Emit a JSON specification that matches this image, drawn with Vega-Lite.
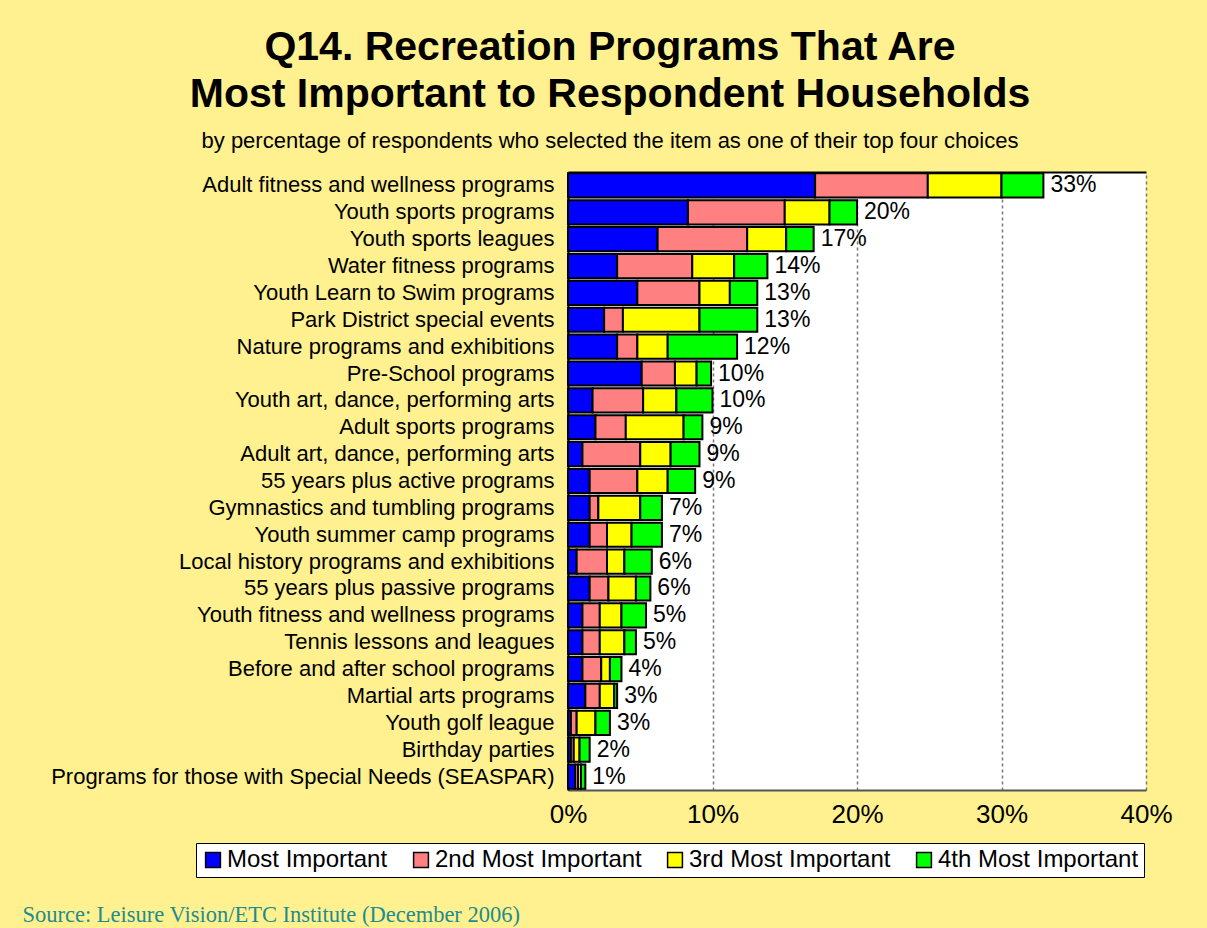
{
  "$schema": "https://vega.github.io/schema/vega-lite/v6.json",
  "width": 578,
  "height": 618,
  "autosize": {"type": "none"},
  "padding": {"left": 568, "top": 172, "right": 61, "bottom": 138},
  "background": "#FFF18F",
  "title": {
    "text": ["Q14. Recreation Programs That Are", "Most Important to Respondent Households"],
    "subtitle": "by percentage of respondents who selected the item as one of their top four choices",
    "anchor": "middle",
    "frame": "group",
    "dx": -247,
    "offset": 19,
    "font": "Liberation Sans",
    "fontSize": 41,
    "fontWeight": "bold",
    "lineHeight": 47,
    "color": "#000000",
    "subtitleFont": "Liberation Sans",
    "subtitleFontSize": 22,
    "subtitleColor": "#000000",
    "subtitlePadding": 15
  },
  "config": {
    "view": {"fill": "#FFFFFF", "stroke": null},
    "axis": {"labelFont": "Liberation Sans", "labelColor": "#000000"}
  },
  "datasets": {
    "segments": [
      {"program": "Adult fitness and wellness programs", "level": "Most Important", "rank": 1, "value": 17.1},
      {"program": "Adult fitness and wellness programs", "level": "2nd Most Important", "rank": 2, "value": 7.8},
      {"program": "Adult fitness and wellness programs", "level": "3rd Most Important", "rank": 3, "value": 5.1},
      {"program": "Adult fitness and wellness programs", "level": "4th Most Important", "rank": 4, "value": 2.9},
      {"program": "Youth sports programs", "level": "Most Important", "rank": 1, "value": 8.3},
      {"program": "Youth sports programs", "level": "2nd Most Important", "rank": 2, "value": 6.7},
      {"program": "Youth sports programs", "level": "3rd Most Important", "rank": 3, "value": 3.1},
      {"program": "Youth sports programs", "level": "4th Most Important", "rank": 4, "value": 1.9},
      {"program": "Youth sports leagues", "level": "Most Important", "rank": 1, "value": 6.2},
      {"program": "Youth sports leagues", "level": "2nd Most Important", "rank": 2, "value": 6.2},
      {"program": "Youth sports leagues", "level": "3rd Most Important", "rank": 3, "value": 2.7},
      {"program": "Youth sports leagues", "level": "4th Most Important", "rank": 4, "value": 1.9},
      {"program": "Water fitness programs", "level": "Most Important", "rank": 1, "value": 3.4},
      {"program": "Water fitness programs", "level": "2nd Most Important", "rank": 2, "value": 5.2},
      {"program": "Water fitness programs", "level": "3rd Most Important", "rank": 3, "value": 2.9},
      {"program": "Water fitness programs", "level": "4th Most Important", "rank": 4, "value": 2.3},
      {"program": "Youth Learn to Swim programs ", "level": "Most Important", "rank": 1, "value": 4.8},
      {"program": "Youth Learn to Swim programs ", "level": "2nd Most Important", "rank": 2, "value": 4.3},
      {"program": "Youth Learn to Swim programs ", "level": "3rd Most Important", "rank": 3, "value": 2.1},
      {"program": "Youth Learn to Swim programs ", "level": "4th Most Important", "rank": 4, "value": 1.9},
      {"program": "Park District special events", "level": "Most Important", "rank": 1, "value": 2.5},
      {"program": "Park District special events", "level": "2nd Most Important", "rank": 2, "value": 1.3},
      {"program": "Park District special events", "level": "3rd Most Important", "rank": 3, "value": 5.3},
      {"program": "Park District special events", "level": "4th Most Important", "rank": 4, "value": 4.0},
      {"program": "Nature programs and exhibitions", "level": "Most Important", "rank": 1, "value": 3.4},
      {"program": "Nature programs and exhibitions", "level": "2nd Most Important", "rank": 2, "value": 1.4},
      {"program": "Nature programs and exhibitions", "level": "3rd Most Important", "rank": 3, "value": 2.1},
      {"program": "Nature programs and exhibitions", "level": "4th Most Important", "rank": 4, "value": 4.8},
      {"program": "Pre-School programs", "level": "Most Important", "rank": 1, "value": 5.1},
      {"program": "Pre-School programs", "level": "2nd Most Important", "rank": 2, "value": 2.3},
      {"program": "Pre-School programs", "level": "3rd Most Important", "rank": 3, "value": 1.5},
      {"program": "Pre-School programs", "level": "4th Most Important", "rank": 4, "value": 1.0},
      {"program": "Youth art, dance, performing arts", "level": "Most Important", "rank": 1, "value": 1.7},
      {"program": "Youth art, dance, performing arts", "level": "2nd Most Important", "rank": 2, "value": 3.5},
      {"program": "Youth art, dance, performing arts", "level": "3rd Most Important", "rank": 3, "value": 2.3},
      {"program": "Youth art, dance, performing arts", "level": "4th Most Important", "rank": 4, "value": 2.5},
      {"program": "Adult sports programs", "level": "Most Important", "rank": 1, "value": 1.9},
      {"program": "Adult sports programs", "level": "2nd Most Important", "rank": 2, "value": 2.1},
      {"program": "Adult sports programs", "level": "3rd Most Important", "rank": 3, "value": 4.0},
      {"program": "Adult sports programs", "level": "4th Most Important", "rank": 4, "value": 1.3},
      {"program": "Adult art, dance, performing arts", "level": "Most Important", "rank": 1, "value": 1.0},
      {"program": "Adult art, dance, performing arts", "level": "2nd Most Important", "rank": 2, "value": 4.0},
      {"program": "Adult art, dance, performing arts", "level": "3rd Most Important", "rank": 3, "value": 2.1},
      {"program": "Adult art, dance, performing arts", "level": "4th Most Important", "rank": 4, "value": 2.0},
      {"program": "55 years plus active programs", "level": "Most Important", "rank": 1, "value": 1.5},
      {"program": "55 years plus active programs", "level": "2nd Most Important", "rank": 2, "value": 3.3},
      {"program": "55 years plus active programs", "level": "3rd Most Important", "rank": 3, "value": 2.1},
      {"program": "55 years plus active programs", "level": "4th Most Important", "rank": 4, "value": 1.9},
      {"program": "Gymnastics and tumbling programs", "level": "Most Important", "rank": 1, "value": 1.5},
      {"program": "Gymnastics and tumbling programs", "level": "2nd Most Important", "rank": 2, "value": 0.6},
      {"program": "Gymnastics and tumbling programs", "level": "3rd Most Important", "rank": 3, "value": 2.9},
      {"program": "Gymnastics and tumbling programs", "level": "4th Most Important", "rank": 4, "value": 1.5},
      {"program": "Youth summer camp programs", "level": "Most Important", "rank": 1, "value": 1.5},
      {"program": "Youth summer camp programs", "level": "2nd Most Important", "rank": 2, "value": 1.2},
      {"program": "Youth summer camp programs", "level": "3rd Most Important", "rank": 3, "value": 1.7},
      {"program": "Youth summer camp programs", "level": "4th Most Important", "rank": 4, "value": 2.1},
      {"program": "Local history programs and exhibitions", "level": "Most Important", "rank": 1, "value": 0.6},
      {"program": "Local history programs and exhibitions", "level": "2nd Most Important", "rank": 2, "value": 2.1},
      {"program": "Local history programs and exhibitions", "level": "3rd Most Important", "rank": 3, "value": 1.2},
      {"program": "Local history programs and exhibitions", "level": "4th Most Important", "rank": 4, "value": 1.9},
      {"program": "55 years plus passive programs", "level": "Most Important", "rank": 1, "value": 1.5},
      {"program": "55 years plus passive programs", "level": "2nd Most Important", "rank": 2, "value": 1.3},
      {"program": "55 years plus passive programs", "level": "3rd Most Important", "rank": 3, "value": 1.9},
      {"program": "55 years plus passive programs", "level": "4th Most Important", "rank": 4, "value": 1.0},
      {"program": "Youth fitness and wellness programs", "level": "Most Important", "rank": 1, "value": 1.0},
      {"program": "Youth fitness and wellness programs", "level": "2nd Most Important", "rank": 2, "value": 1.2},
      {"program": "Youth fitness and wellness programs", "level": "3rd Most Important", "rank": 3, "value": 1.5},
      {"program": "Youth fitness and wellness programs", "level": "4th Most Important", "rank": 4, "value": 1.7},
      {"program": "Tennis lessons and leagues", "level": "Most Important", "rank": 1, "value": 1.0},
      {"program": "Tennis lessons and leagues", "level": "2nd Most Important", "rank": 2, "value": 1.2},
      {"program": "Tennis lessons and leagues", "level": "3rd Most Important", "rank": 3, "value": 1.7},
      {"program": "Tennis lessons and leagues", "level": "4th Most Important", "rank": 4, "value": 0.8},
      {"program": "Before and after school programs", "level": "Most Important", "rank": 1, "value": 1.0},
      {"program": "Before and after school programs", "level": "2nd Most Important", "rank": 2, "value": 1.3},
      {"program": "Before and after school programs", "level": "3rd Most Important", "rank": 3, "value": 0.6},
      {"program": "Before and after school programs", "level": "4th Most Important", "rank": 4, "value": 0.8},
      {"program": "Martial arts programs", "level": "Most Important", "rank": 1, "value": 1.2},
      {"program": "Martial arts programs", "level": "2nd Most Important", "rank": 2, "value": 1.0},
      {"program": "Martial arts programs", "level": "3rd Most Important", "rank": 3, "value": 1.0},
      {"program": "Martial arts programs", "level": "4th Most Important", "rank": 4, "value": 0.2},
      {"program": "Youth golf league", "level": "Most Important", "rank": 1, "value": 0.2},
      {"program": "Youth golf league", "level": "2nd Most Important", "rank": 2, "value": 0.4},
      {"program": "Youth golf league", "level": "3rd Most Important", "rank": 3, "value": 1.3},
      {"program": "Youth golf league", "level": "4th Most Important", "rank": 4, "value": 1.0},
      {"program": "Birthday parties", "level": "Most Important", "rank": 1, "value": 0.2},
      {"program": "Birthday parties", "level": "2nd Most Important", "rank": 2, "value": 0.2},
      {"program": "Birthday parties", "level": "3rd Most Important", "rank": 3, "value": 0.4},
      {"program": "Birthday parties", "level": "4th Most Important", "rank": 4, "value": 0.7},
      {"program": "Programs for those with Special Needs (SEASPAR)", "level": "Most Important", "rank": 1, "value": 0.5},
      {"program": "Programs for those with Special Needs (SEASPAR)", "level": "2nd Most Important", "rank": 2, "value": 0.2},
      {"program": "Programs for those with Special Needs (SEASPAR)", "level": "3rd Most Important", "rank": 3, "value": 0.2},
      {"program": "Programs for those with Special Needs (SEASPAR)", "level": "4th Most Important", "rank": 4, "value": 0.3}
    ],
    "totals": [
      {"program": "Adult fitness and wellness programs", "total": 32.9, "label": "33%"},
      {"program": "Youth sports programs", "total": 20.0, "label": "20%"},
      {"program": "Youth sports leagues", "total": 17.0, "label": "17%"},
      {"program": "Water fitness programs", "total": 13.8, "label": "14%"},
      {"program": "Youth Learn to Swim programs ", "total": 13.1, "label": "13%"},
      {"program": "Park District special events", "total": 13.1, "label": "13%"},
      {"program": "Nature programs and exhibitions", "total": 11.7, "label": "12%"},
      {"program": "Pre-School programs", "total": 9.9, "label": "10%"},
      {"program": "Youth art, dance, performing arts", "total": 10.0, "label": "10%"},
      {"program": "Adult sports programs", "total": 9.3, "label": "9%"},
      {"program": "Adult art, dance, performing arts", "total": 9.1, "label": "9%"},
      {"program": "55 years plus active programs", "total": 8.8, "label": "9%"},
      {"program": "Gymnastics and tumbling programs", "total": 6.5, "label": "7%"},
      {"program": "Youth summer camp programs", "total": 6.5, "label": "7%"},
      {"program": "Local history programs and exhibitions", "total": 5.8, "label": "6%"},
      {"program": "55 years plus passive programs", "total": 5.7, "label": "6%"},
      {"program": "Youth fitness and wellness programs", "total": 5.4, "label": "5%"},
      {"program": "Tennis lessons and leagues", "total": 4.7, "label": "5%"},
      {"program": "Before and after school programs", "total": 3.7, "label": "4%"},
      {"program": "Martial arts programs", "total": 3.4, "label": "3%"},
      {"program": "Youth golf league", "total": 2.9, "label": "3%"},
      {"program": "Birthday parties", "total": 1.5, "label": "2%"},
      {"program": "Programs for those with Special Needs (SEASPAR)", "total": 1.2, "label": "1%"}
    ]
  },
  "resolve": {"axis": {"x": "independent"}},
  "layer": [
    {
      "data": {"name": "segments"},
      "mark": {"type": "bar", "stroke": "#000000", "strokeWidth": 2},
      "encoding": {
        "y": {
          "field": "program",
          "type": "nominal",
          "sort": null,
          "scale": {"paddingInner": 0.1, "paddingOuter": 0.05},
          "axis": {
            "title": null,
            "labelFontSize": 22,
            "labelPadding": 14,
            "labelLimit": 600,
            "ticks": false,
            "domainColor": "#000000",
            "domainWidth": 2
          }
        },
        "x": {
          "field": "value",
          "type": "quantitative",
          "stack": "zero",
          "scale": {"domain": [0, 40], "nice": false, "zero": true},
          "axis": {
            "values": [0, 10, 20, 30, 40],
            "labelExpr": "datum.value + '%'",
            "labelFontSize": 26,
            "labelPadding": 11,
            "labelFlush": false,
            "ticks": false,
            "domainColor": "#555555",
            "domainWidth": 2,
            "grid": true,
            "gridColor": "#777777",
            "gridDash": [3, 3],
            "gridWidth": 1.5,
            "title": "Source:  Leisure Vision/ETC Institute (December 2006)",
            "titleFont": "Liberation Serif",
            "titleFontSize": 22.5,
            "titleFontWeight": "normal",
            "titleColor": "#1E8C8C",
            "titleAlign": "left",
            "titleAnchor": "start",
            "titleBaseline": "alphabetic",
            "titleX": -546,
            "titleY": 131
          }
        },
        "color": {
          "field": "level",
          "type": "nominal",
          "sort": ["Most Important", "2nd Most Important", "3rd Most Important", "4th Most Important"],
          "scale": {
            "domain": ["Most Important", "2nd Most Important", "3rd Most Important", "4th Most Important"],
            "range": ["#0000FF", "#FF8080", "#FFFF00", "#00FF00"]
          },
          "legend": {
            "title": null,
            "orient": "none",
            "legendX": -372,
            "legendY": 671,
            "direction": "horizontal",
            "columns": 4,
            "columnPadding": 21,
            "fillColor": "#FFFFFF",
            "strokeColor": "#000000",
            "padding": 5,
            "symbolType": "square",
            "symbolSize": 220,
            "symbolStrokeColor": "#000000",
            "symbolStrokeWidth": 1.5,
            "symbolOpacity": 1,
            "labelFont": "Liberation Sans",
            "labelFontSize": 24,
            "labelColor": "#000000",
            "labelOffset": 2,
            "labelLimit": 300
          }
        },
        "order": {"field": "rank", "type": "quantitative"}
      }
    },
    {
      "data": {"name": "totals"},
      "mark": {"type": "text", "align": "left", "baseline": "middle", "dx": 7, "font": "Liberation Sans", "fontSize": 23, "color": "#000000"},
      "encoding": {
        "y": {"field": "program", "type": "nominal", "sort": null},
        "x": {
          "field": "total",
          "type": "quantitative",
          "axis": {"orient": "top", "labels": false, "ticks": false, "grid": false, "title": null, "domainColor": "#000000", "domainWidth": 2}
        },
        "text": {"field": "label"}
      }
    }
  ]
}
